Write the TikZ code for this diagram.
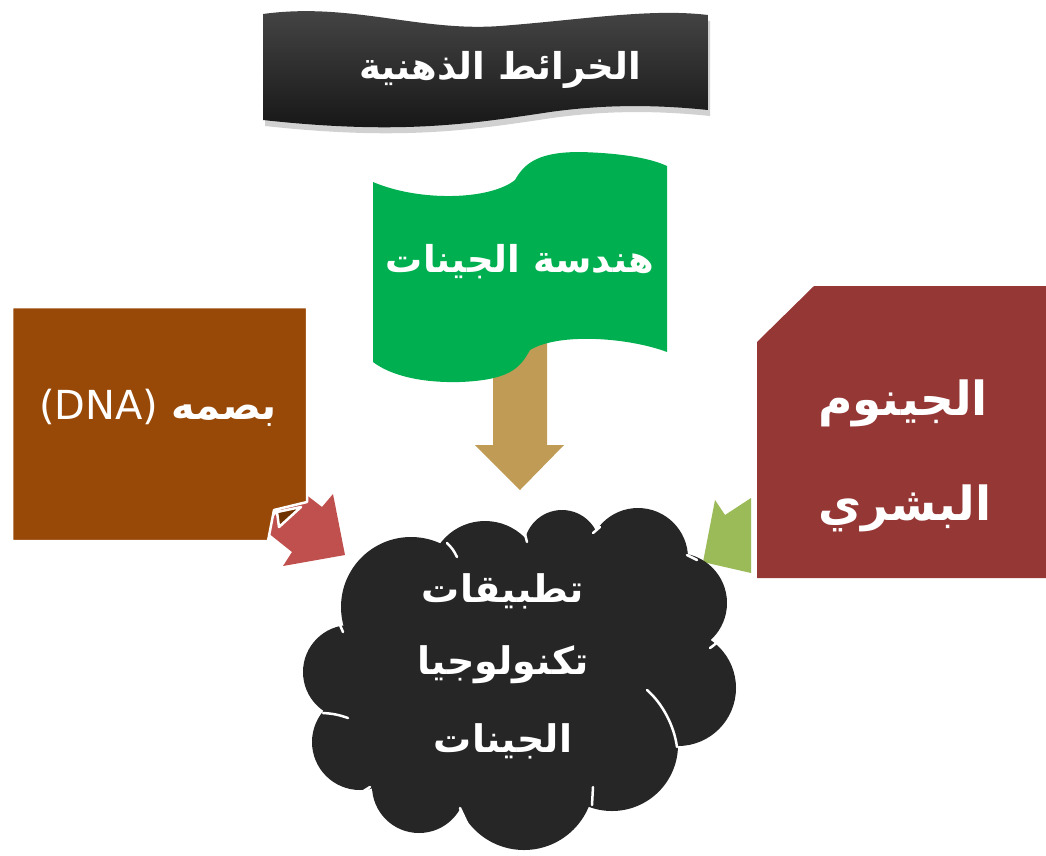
\documentclass[tikz,border=0pt]{standalone}
\usepackage{fontspec}
\TeXXeTstate=1
\newfontfamily\arabicfont[Script=Arabic]{DejaVu Sans}
\definecolor{bannerc}{HTML}{262626}
\definecolor{flagc}{HTML}{00B050}
\definecolor{tanc}{HTML}{C09B55}
\definecolor{brownc}{HTML}{984807}
\definecolor{foldc}{HTML}{6F3300}
\definecolor{redc}{HTML}{C0504D}
\definecolor{maroonc}{HTML}{953735}
\definecolor{limec}{HTML}{9BBB59}
\definecolor{cloudc}{HTML}{262626}
\tikzset{
  lbl/.style={text=white,font=\arabicfont\bfseries\fontsize{37}{44}\selectfont,inner sep=0pt},
  biglbl/.style={lbl,font=\arabicfont\bfseries\fontsize{47}{54}\selectfont},
  cloudlbl/.style={lbl,font=\arabicfont\bfseries\fontsize{38}{44}\selectfont},
  puff/.style={white,line width=2.5pt,line cap=round},
}
\begin{document}
\begin{tikzpicture}[x=1pt,y=-1pt]
\useasboundingbox (0,0) rectangle (1046,855);
% ---- title banner
\begin{scope}[shift={(2,6)}]
\fill[black,opacity=0.18] (263,14) .. controls (350,2) and (420,32) .. (500,26) .. controls (580,20) and (650,8) .. (708,15)
  -- (708,110) .. controls (650,104) and (600,105) .. (550,112) .. controls (470,124) and (400,135) .. (263,120) -- cycle;
\end{scope}
\shade[top color=black!72,middle color=bannerc,bottom color=black!92] (263,14) .. controls (350,2) and (420,32) .. (500,26) .. controls (580,20) and (650,8) .. (708,15)
  -- (708,110) .. controls (650,104) and (600,105) .. (550,112) .. controls (470,124) and (400,135) .. (263,120) -- cycle;
\node[lbl] (title) at (500,70) {\beginR الخرائط الذهنية\endR};
% ---- tan arrow (under flag)
\fill[tanc] (493,330) -- (547,330) -- (547,445) -- (564,445) -- (520,490) -- (475,445) -- (493,445) -- cycle;
% ---- green flag
\fill[flagc] (373,182) .. controls (420,202) and (490,200) .. (515,180) .. controls (525,162) and (540,152) .. (580,152)
  .. controls (620,153) and (650,158) .. (667,166) -- (667,352)
  .. controls (630,338) and (560,332) .. (530,350) .. controls (520,368) and (510,380) .. (460,382)
  .. controls (420,383) and (390,375) .. (373,362) -- cycle;
\node[lbl] (flag) at (520,262) {\beginR هندسة الجينات\endR};
% ---- red arrow (under left box)
\fill[redc] (300,490) -- (322,507) -- (333,494) -- (345,555) -- (283,566) -- (292,552) -- (262,528) -- cycle;
% ---- left box
\fill[brownc,draw=white,line width=2.5pt,line join=round] (12,307) -- (307,307) -- (307,502) -- (274,510) -- (268,541) -- (12,541) -- cycle;
\fill[foldc,draw=white,line width=2.5pt,line join=round] (277,512) -- (301,507) -- (279,527) -- cycle;
\node[lbl,font=\arabicfont\fontsize{40}{46}\selectfont] (dna) at (158,408) {(DNA) {\bfseries\beginR بصمه\endR}};
% ---- green arrow (under right box)
\fill[limec] (751,498) -- (725,515) -- (715,500) -- (703,562) -- (751,573) -- cycle;
% ---- right box
\fill[maroonc] (757,342) -- (814,286) -- (1046,286) -- (1046,578) -- (757,578) -- cycle;
\node[biglbl] (genome) at (903,403) {\beginR الجينوم\endR};
\node[biglbl] (human) at (905,508) {\beginR البشري\endR};
% ---- cloud
\fill[cloudc] (350,672) -- (411,607) -- (485,577) -- (562,548) -- (638,558) -- (677,603) -- (678,688) -- (612,745) -- (524,780) -- (419,786) -- (360,742) -- cycle;
\fill[cloudc] (350,672) circle[radius=47];
\fill[cloudc] (411,607) circle[radius=70];
\fill[cloudc] (485,577) circle[radius=56];
\fill[cloudc] (562,548) circle[radius=38];
\fill[cloudc] (638,558) circle[radius=50];
\fill[cloudc] (677,603) circle[radius=50];
\fill[cloudc] (678,688) circle[radius=58];
\fill[cloudc] (612,745) circle[radius=66];
\fill[cloudc] (524,780) circle[radius=70];
\fill[cloudc] (419,786) circle[radius=47];
\fill[cloudc] (360,742) circle[radius=48];
\draw[puff] (447,543) to[bend left=10] (457,557);
\draw[puff] (524,530) -- (527,542);
\draw[puff] (593,533) -- (600,527);
\draw[puff] (687,555) -- (697,560);
\draw[puff] (710,648) to[bend right=10] (725,633);
\draw[puff] (647,690) .. controls (662,703) and (674,725) .. (677,747);
\draw[puff] (593,787) -- (592,805);
\draw[puff] (460,808) -- (467,823);
\draw[puff] (370,787) -- (362,792);
\draw[puff] (323,713) to[bend left=8] (348,718);
\draw[puff] (340,625) -- (343,632);
\node[cloudlbl] (app1) at (503,591) {\beginR تطبيقات\endR};
\node[cloudlbl] (app2) at (503,665) {\beginR تكنولوجيا\endR};
\node[cloudlbl] (app3) at (503,741) {\beginR الجينات\endR};
\end{tikzpicture}
\end{document}
